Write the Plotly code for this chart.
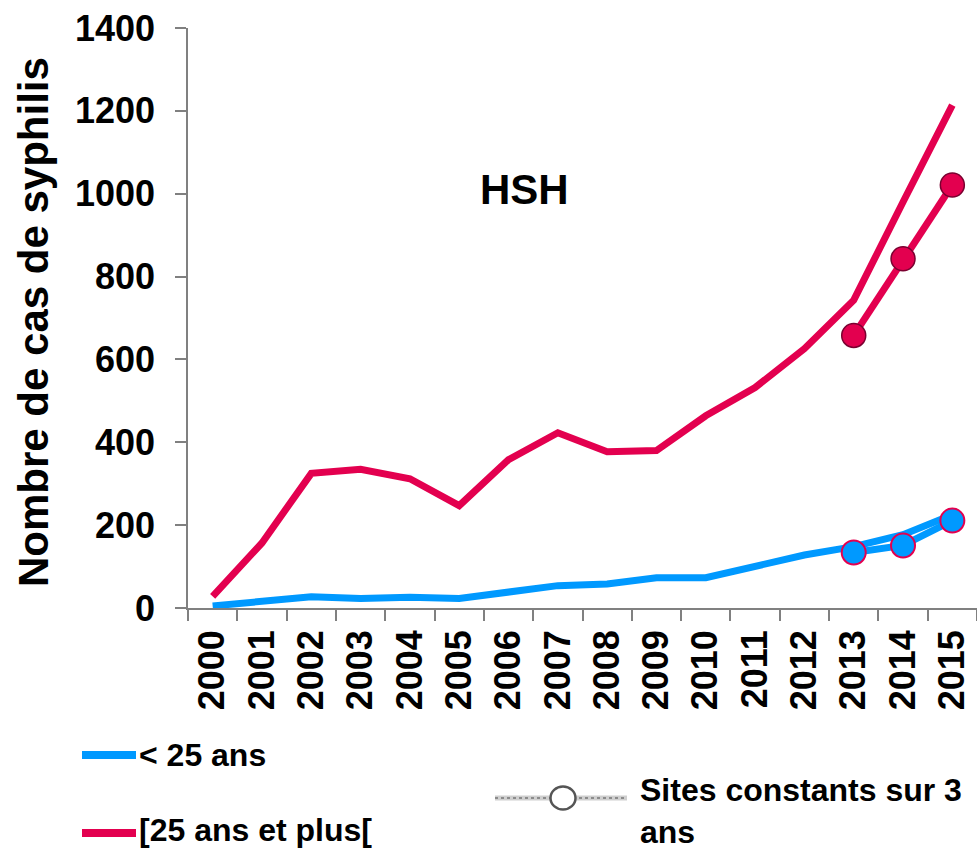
import plotly.graph_objects as go

# Yearly syphilis case counts among MSM (HSH), by age group
years = ["2000", "2001", "2002", "2003", "2004", "2005", "2006", "2007",
         "2008", "2009", "2010", "2011", "2012", "2013", "2014", "2015"]
under_25 = [5, 16, 27, 23, 26, 23, 38, 54, 58, 73, 73, 100, 128, 148, 177, 225]
over_25 = [28, 157, 325, 335, 312, 247, 358, 423, 377, 380, 464, 532, 626, 743, 980, 1214]

# Same counts restricted to sites reporting constantly over 3 years
site_years = ["2013", "2014", "2015"]
site_under_25 = [134, 151, 211]
site_over_25 = [658, 843, 1021]

BLUE = "#0099FF"
PINK = "#E3004F"
DARK_PINK = "#7A0030"
AXIS = "#808080"
FONT = "Liberation Sans, Arial, sans-serif"

W, H = 977, 851
L, R, T, B = 188, 0, 28, 243
PW, PH = W - L - R, H - T - B


def px(x):
    return (x - L) / PW


def py(y):
    return (H - B - y) / PH


fig = go.Figure()

fig.add_trace(go.Scatter(x=years, y=over_25, mode="lines", name="[25 ans et plus[",
                         line=dict(color=PINK, width=7)))
fig.add_trace(go.Scatter(x=years, y=under_25, mode="lines", name="< 25 ans",
                         line=dict(color=BLUE, width=7)))
fig.add_trace(go.Scatter(x=site_years, y=site_over_25, mode="lines+markers",
                         line=dict(color=PINK, width=7),
                         marker=dict(size=24, color=PINK,
                                     line=dict(color=DARK_PINK, width=1.5))))
fig.add_trace(go.Scatter(x=site_years, y=site_under_25, mode="lines+markers",
                         line=dict(color=BLUE, width=7),
                         marker=dict(size=24, color=BLUE,
                                     line=dict(color=PINK, width=2))))

bold = dict(family=FONT, size=36, color="black", weight="bold")

fig.update_xaxes(type="category", range=[-0.5, 15.5], showline=True,
                 linecolor=AXIS, linewidth=1.5, ticks="outside", ticklen=11,
                 tickcolor=AXIS, tickwidth=1.5, tickson="boundaries",
                 tickangle=-90, tickfont=bold, showgrid=False, zeroline=False,
                 ticklabelstandoff=6)
fig.update_yaxes(range=[0, 1400], dtick=200, showline=True, linecolor=AXIS,
                 linewidth=1.5, ticks="outside", ticklen=11, tickcolor=AXIS,
                 tickwidth=1.5, tickfont=bold, showgrid=False, zeroline=False,
                 ticklabelstandoff=13)

annotations = [
    dict(text="HSH", x=px(524), y=py(189), xref="paper", yref="paper",
         showarrow=False, font=dict(family=FONT, size=42, color="black", weight="bold"),
         xanchor="center", yanchor="middle"),
    dict(text="Nombre de cas de syphilis", x=px(33), y=py(322), xref="paper",
         yref="paper", showarrow=False, textangle=-90,
         font=dict(family=FONT, size=42, color="black", weight="bold"),
         xanchor="center", yanchor="middle"),
]

leg_font = dict(family=FONT, size=32, color="black", weight="bold")
for label, yy in [("< 25 ans", 755), ("[25 ans et plus[", 830)]:
    annotations.append(dict(text=label, x=px(138), y=py(yy), xref="paper",
                            yref="paper", showarrow=False, font=leg_font,
                            xanchor="left", yanchor="middle", borderpad=0))
annotations.append(dict(text="Sites constants sur 3<br>ans", x=px(639),
                        y=py(851), xref="paper", yref="paper", showarrow=False,
                        font=leg_font, align="left", xanchor="left",
                        yanchor="bottom", borderpad=0))

shapes = [
    dict(type="line", xref="paper", yref="paper", x0=px(82), x1=px(136),
         y0=py(755), y1=py(755), line=dict(color=BLUE, width=8)),
    dict(type="line", xref="paper", yref="paper", x0=px(82), x1=px(136),
         y0=py(833), y1=py(833), line=dict(color=PINK, width=8)),
    dict(type="line", xref="paper", yref="paper", x0=px(495), x1=px(627),
         y0=py(798), y1=py(798), line=dict(color="#CFCFCF", width=5)),
    dict(type="line", xref="paper", yref="paper", x0=px(495), x1=px(627),
         y0=py(798), y1=py(798), line=dict(color="#8C8C8C", width=2, dash="dot")),
    dict(type="circle", xref="paper", yref="paper", xsizemode="pixel",
         ysizemode="pixel", xanchor=px(563), yanchor=py(798),
         x0=-12.5, x1=12.5, y0=-11.5, y1=11.5,
         fillcolor="white", line=dict(color="#555555", width=2.5)),
]

fig.update_layout(width=W, height=H, margin=dict(l=L, r=R, t=T, b=B),
                  paper_bgcolor="white", plot_bgcolor="white",
                  showlegend=False, annotations=annotations, shapes=shapes)

fig.write_html("out.html")
